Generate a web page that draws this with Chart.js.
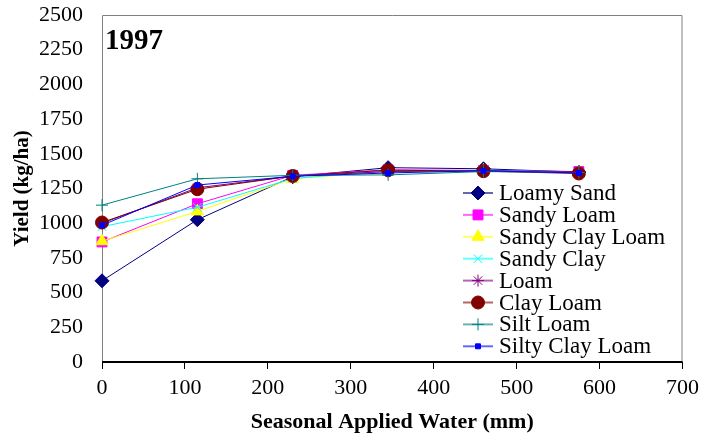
<!DOCTYPE html>
<html>
<head>
<meta charset="utf-8">
<script src="https://cdn.jsdelivr.net/npm/chart.js@4.4.1/dist/chart.umd.min.js"></script>
<style>
  html, body { margin: 0; padding: 0; background: #ffffff; }
  #wrap { width: 705px; height: 444px; }
</style>
</head>
<body>
<div id="wrap"><canvas id="grafica" width="705" height="444"></canvas></div>
<script>
// Datos
const aguaAplicada = [0, 115, 230, 345, 460, 575];
const loamySand     = [585, 1025, 1335, 1400, 1392, 1368];
const sandyLoam     = [865, 1140, 1345, 1385, 1380, 1372];
const sandyClayLoam = [870, 1085, 1320, 1372, 1380, 1365];
const sandyClay     = [975, 1115, 1322, 1378, 1380, 1368];
const loam          = [1000, 1255, 1340, 1372, 1378, 1372];
const clayLoam      = [1005, 1245, 1340, 1382, 1375, 1358];
const siltLoam      = [1130, 1320, 1345, 1348, 1372, 1365];
const siltyClayLoam = [985, 1275, 1338, 1362, 1378, 1362];

const nombres = ['Loamy Sand', 'Sandy Loam', 'Sandy Clay Loam', 'Sandy Clay', 'Loam', 'Clay Loam', 'Silt Loam', 'Silty Clay Loam'];
const series = [loamySand, sandyLoam, sandyClayLoam, sandyClay, loam, clayLoam, siltLoam, siltyClayLoam];
const colores = ['#000080', '#ff00ff', '#ffff00', '#00ffff', '#800080', '#800000', '#008080', '#0000ff'];
const estilos = ['rectRot', 'rect', 'triangle', 'crossRot', 'star', 'circle', 'cross', 'rect'];
const radios = [7, 7, 7, 6, 6, 6.5, 6, 3.5];
const etiquetasY = [0, 250, 500, 750, 1000, 1250, 1500, 1750, 2000, 2250, 2500];
const anio = '1997';

const fuente = "'Liberation Serif', 'Times New Roman', serif";

const conjuntos = series.map((valores, i) => ({
    label: nombres[i],
    data: valores.map((v, j) => ({ x: aguaAplicada[j], y: v })),
    borderColor: colores[i],
    backgroundColor: colores[i],
    pointBackgroundColor: colores[i],
    pointBorderColor: colores[i],
    pointStyle: estilos[i],
    pointRadius: radios[i],
    pointBorderWidth: 1,
    borderWidth: 1,
    tension: 0,
    clip: false,
    order: series.length - 1 - i
}));

// Marco gris, eje inferior negro, etiqueta del anio y leyenda dentro del area
const extras = {
    id: 'extras',
    beforeDatasetsDraw(chart) {
        const { ctx, chartArea: a } = chart;
        ctx.save();
        ctx.strokeStyle = '#808080';
        ctx.lineWidth = 1;
        ctx.beginPath();
        ctx.moveTo(a.left + 0.5, a.bottom);
        ctx.lineTo(a.left + 0.5, a.top + 0.5);
        ctx.lineTo(a.right - 0.5, a.top + 0.5);
        ctx.lineTo(a.right - 0.5, a.bottom);
        ctx.stroke();
        ctx.strokeStyle = '#000000';
        ctx.lineWidth = 2;
        ctx.beginPath();
        ctx.moveTo(a.left, a.bottom);
        ctx.lineTo(a.right, a.bottom);
        ctx.stroke();
        ctx.restore();
    },
    afterDraw(chart) {
        const { ctx, chartArea: a } = chart;
        ctx.save();
        ctx.fillStyle = '#000000';
        ctx.font = "bold 29px " + fuente;
        ctx.textBaseline = 'alphabetic';
        ctx.textAlign = 'left';
        ctx.fillText(anio, a.left + 3, 49);

        // leyenda
        const x0 = 463, x1 = 493, xt = 499;
        const y0 = 193, paso = 21.9;
        ctx.font = "23px " + fuente;
        ctx.textBaseline = 'middle';
        chart.data.datasets.forEach((ds, i) => {
            const y = y0 + i * paso;
            ctx.strokeStyle = ds.borderColor;
            ctx.globalAlpha = 0.6;
            ctx.lineWidth = 2;
            ctx.beginPath();
            ctx.moveTo(x0, y);
            ctx.lineTo(x1, y);
            ctx.stroke();
            ctx.globalAlpha = 1;
            ctx.fillStyle = ds.pointBackgroundColor;
            ctx.strokeStyle = ds.pointBorderColor;
            ctx.lineWidth = 1;
            Chart.helpers.drawPoint(ctx, {
                pointStyle: ds.pointStyle,
                radius: ds.pointRadius,
                rotation: 0,
                borderWidth: 1
            }, (x0 + x1) / 2, y);
            ctx.fillStyle = '#000000';
            ctx.fillText(ds.label, xt, y + 1);
        });
        ctx.restore();
    }
};

new Chart(document.getElementById('grafica'), {
    type: 'line',
    data: { datasets: conjuntos },
    options: {
        responsive: false,
        animation: false,
        layout: { padding: { left: 0, top: 15, right: 20, bottom: 0 } },
        plugins: {
            legend: { display: false },
            tooltip: { enabled: false }
        },
        scales: {
            x: {
                type: 'linear',
                min: 0,
                max: 700,
                afterFit: (s) => { s.height = 82; },
                ticks: { stepSize: 100, color: '#000000', font: { family: fuente, size: 22 }, padding: 6, maxRotation: 0, callback: (v) => String(v) },
                grid: { display: true, drawOnChartArea: false, drawTicks: true, tickLength: 7, color: '#000000' },
                border: { display: false },
                title: { display: true, text: 'Seasonal Applied Water (mm)', color: '#000000', font: { family: fuente, size: 22, weight: 'bold' }, padding: { top: 0, bottom: 8 } }
            },
            y: {
                type: 'linear',
                min: 0,
                max: 2500,
                afterFit: (s) => { s.width = 102; },
                afterBuildTicks: (s) => { s.ticks = etiquetasY.map(v => ({ value: v })); },
                ticks: { color: '#000000', font: { family: fuente, size: 22 }, padding: 0, callback: (v) => String(v) },
                grid: { display: false, drawTicks: true, tickLength: 19 },
                border: { display: false },
                title: { display: true, text: 'Yield (kg/ha)', color: '#000000', font: { family: fuente, size: 21, weight: 'bold' }, padding: { top: 10, bottom: 0 } }
            }
        }
    },
    plugins: [extras]
});
</script>
</body>
</html>
